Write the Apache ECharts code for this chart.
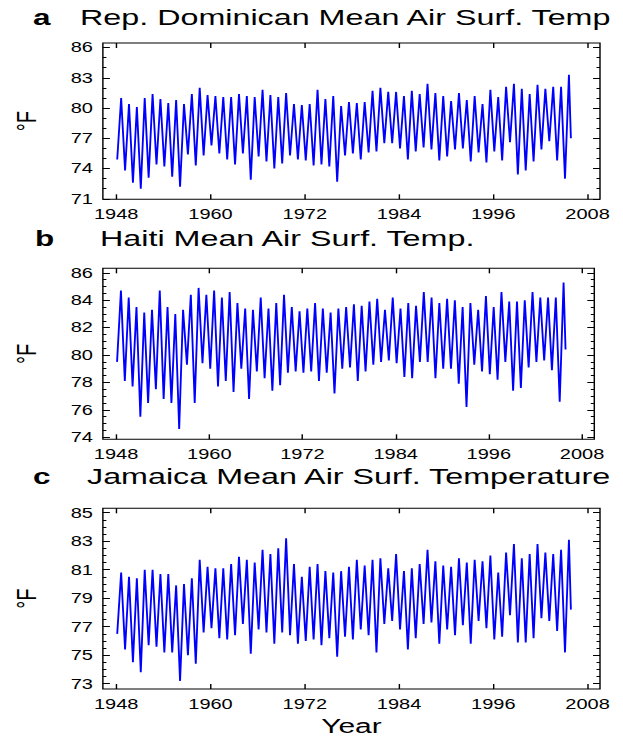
<!DOCTYPE html>
<html><head><meta charset="utf-8">
<script src="https://cdn.jsdelivr.net/npm/echarts@6/dist/echarts.min.js"></script>
<style>
html,body{margin:0;padding:0;background:#fff;overflow:hidden}
#wrap{width:623px;height:739px;overflow:hidden;position:relative}
#main{width:436px;height:739px;transform:scaleX(1.428899);transform-origin:0 0}
</style></head><body><div id="wrap"><div id="main"></div></div>
<script>
// ---- data (annual winter trough and summer peak) ----
const years = [1948,1949,1950,1951,1952,1953,1954,1955,1956,1957,
  1958,1959,1960,1961,1962,1963,1964,1965,1966,1967,
  1968,1969,1970,1971,1972,1973,1974,1975,1976,1977,
  1978,1979,1980,1981,1982,1983,1984,1985,1986,1987,
  1988,1989,1990,1991,1992,1993,1994,1995,1996,1997,
  1998,1999,2000,2001,2002,2003,2004,2005];
const troughMonth = 2;   // February
const peakMonth = 8;     // August
const endMonth = 11;     // last observation, November 2005

const domMin = [74.9,73.8,72.6,72.0,73.1,74.4,74.2,73.2,72.2,75.4,
  74.3,75.3,76.3,75.5,74.9,74.4,75.5,72.9,75.2,74.7,
  74.0,74.5,75.3,74.9,74.8,74.3,74.4,74.2,72.7,75.3,
  75.5,74.9,75.6,75.7,76.5,76.5,76.0,74.9,75.7,76.1,
  75.9,74.8,75.2,75.9,76.0,74.7,75.6,74.6,75.7,74.8,
  76.6,73.4,73.8,74.7,75.9,76.7,74.8,73.0];
const domMax = [81.0,80.4,80.1,81.0,81.4,80.9,80.5,80.8,80.4,81.4,
  82.0,81.3,81.2,81.1,81.1,81.4,81.2,81.1,81.8,81.3,
  81.1,81.5,80.4,80.3,80.4,81.8,80.9,81.2,80.2,80.6,
  80.5,80.6,81.7,82.0,81.6,81.6,81.2,81.7,81.4,82.4,
  81.5,81.2,80.7,81.5,80.8,81.2,80.4,81.8,81.1,82.1,
  82.4,81.9,81.4,82.3,81.9,82.1,82.1,83.3];
const domEnd = 77.0;

const haitiMin = [79.5,78.1,77.7,75.5,76.5,77.5,76.8,76.5,74.6,79.3,
  76.5,79.4,79.0,77.7,78.1,77.3,79.0,76.8,78.8,78.3,
  77.4,77.8,78.7,78.8,78.7,78.8,78.1,78.7,77.2,79.0,
  79.1,78.1,78.8,79.3,79.5,79.6,79.4,78.4,78.3,79.5,
  79.5,78.3,79.0,79.0,77.9,76.2,79.3,78.8,78.6,78.2,
  79.5,77.4,77.6,79.1,79.5,79.6,78.9,76.6];
const haitiMax = [84.7,84.2,83.5,83.1,83.3,84.7,83.5,83.0,83.3,84.4,
  84.9,84.4,84.7,84.2,84.6,83.8,83.4,83.3,84.2,83.4,
  83.8,84.4,83.5,83.2,83.4,83.8,83.4,83.1,83.4,83.5,
  83.7,83.6,83.9,84.1,83.3,84.2,83.4,83.8,83.6,84.6,
  84.2,83.8,84.1,84.0,83.5,83.8,83.3,84.3,83.5,84.6,
  83.9,83.9,84.0,84.6,84.2,84.2,84.2,85.3];
const haitiEnd = 80.4;

const jamMin = [76.5,75.4,74.5,73.8,75.7,75.6,75.2,75.2,73.2,75.0,
  74.4,76.6,76.9,76.2,76.1,76.4,77.2,75.1,76.8,76.6,
  75.8,76.6,76.4,75.8,76.0,76.1,75.7,76.2,74.9,76.3,
  76.1,76.8,76.4,75.2,77.2,77.4,76.8,75.4,76.2,77.2,
  77.3,75.8,76.8,76.4,77.1,75.8,77.4,76.9,76.1,76.3,
  77.8,75.9,75.9,76.2,77.6,77.4,76.7,75.2];
const jamMax = [80.8,80.5,80.4,81.0,81.0,80.7,80.7,79.9,80.0,80.4,
  81.7,81.2,81.1,81.1,81.4,81.9,81.7,81.5,82.4,82.1,
  82.5,83.2,81.4,80.5,81.2,81.4,80.9,80.8,80.9,81.2,
  81.7,81.3,81.7,81.8,81.1,82.1,80.9,81.1,81.4,82.4,
  81.6,81.3,81.2,81.8,81.5,81.7,81.6,82.0,80.8,82.2,
  82.8,81.8,82.1,82.8,82.2,82.1,82.4,83.1];
const jamEnd = 78.2;

// tick labels
const xTicks = [1948,1960,1972,1984,1996,2008];
const domTicks = [71,74,77,80,83,86];
const haitiTicks = [74,76,78,80,82,84,86];
const jamTicks = [73,75,77,79,81,83,85];

// ---- layout (reference pixels; horizontally compressed, page is stretched by CSS) ----
const SX = 623/436;
const ix = v => v / SX;
const FONT = "'Liberation Sans', Arial, Helvetica, sans-serif";

function buildSeries(mins, maxs, endVal) {
  const out = [];
  years.forEach((y, i) => {
    out.push([y + (troughMonth - 0.5) / 12, mins[i]]);
    out.push([y + (peakMonth - 0.5) / 12, maxs[i]]);
  });
  out.push([years[years.length - 1] + (endMonth - 0.5) / 12, endVal]);
  return out;
}
function minorTicks(lo, hi, step) {
  const r = [];
  for (let v = lo; v <= hi + 1e-9; v += step) r.push(+v.toFixed(3));
  return r;
}

const panels = [
  {letter:'a', title:'Rep. Dominican Mean Air Surf. Temp', mins:domMin, maxs:domMax, end:domEnd,
   ticks:domTicks, minor:1, yMin:70.95, yMax:86.45,
   left:99, right:600, top:43, bottom:199.3, titleY:18, letterX:33, titleX:80},
  {letter:'b', title:'Haiti Mean Air Surf. Temp.', mins:haitiMin, maxs:haitiMax, end:haitiEnd,
   ticks:haitiTicks, minor:0.5, yMin:73.85, yMax:86.33,
   left:98.3, right:594.3, top:268.3, bottom:439.3, titleY:239, letterX:35, titleX:100},
  {letter:'c', title:'Jamaica Mean Air Surf. Temperature', mins:jamMin, maxs:jamMax, end:jamEnd,
   ticks:jamTicks, minor:0.5, yMin:72.63, yMax:85.31,
   left:99, right:600, top:508.3, bottom:689, titleY:477, letterX:33, titleX:87}
];

const X_MIN = 1946.3, X_MAX = 2009.58;
const grid = [], xAxis = [], yAxis = [], series = [], title = [];
const tickLine = {color:'#000', width:1};
const labelStyle = {color:'#000', fontSize:14, fontFamily:FONT};
const plain = v => String(Math.round(v));

panels.forEach((p, g) => {
  grid.push({left: ix(p.left), width: ix(p.right) - ix(p.left), top: p.top, height: p.bottom - p.top,
    show: true, borderColor:'#000', borderWidth:1, backgroundColor:'transparent'});
  const minors = minorTicks(Math.ceil(p.yMin / p.minor) * p.minor, p.yMax, p.minor);
  xAxis.push({gridIndex:g, type:'value', min:X_MIN, max:X_MAX, position:'bottom',
    axisLine:{show:false}, splitLine:{show:false},
    axisTick:{show:true, inside:true, length:5, customValues:xTicks, lineStyle:tickLine},
    axisLabel:{show:true, customValues:xTicks, margin:8, formatter:plain, ...labelStyle},
    name: g === 2 ? 'Year' : '', nameLocation:'middle', nameGap:26,
    nameTextStyle:{color:'#000', fontSize:21, fontFamily:FONT}});
  xAxis.push({gridIndex:g, type:'value', min:X_MIN, max:X_MAX, position:'top',
    axisLine:{show:false}, splitLine:{show:false},
    axisTick:{show:true, inside:true, length:5, customValues:xTicks, lineStyle:tickLine},
    axisLabel:{show:false}});
  const yBase = {gridIndex:g, type:'value', min:p.yMin, max:p.yMax, axisLine:{show:false}, splitLine:{show:false}};
  yAxis.push({...yBase, position:'left',
    axisTick:{show:true, inside:true, length:ix(7), customValues:p.ticks, lineStyle:tickLine},
    axisLabel:{show:true, customValues:p.ticks, margin:7, formatter:plain, ...labelStyle},
    name:'°F', nameLocation:'middle', nameRotate:90, nameGap:44,
    nameTextStyle:{color:'#000', fontSize:20, fontFamily:FONT}});
  yAxis.push({...yBase, position:'left',
    axisTick:{show:true, inside:true, length:ix(3.5), customValues:minors, lineStyle:tickLine},
    axisLabel:{show:false}});
  yAxis.push({...yBase, position:'right',
    axisTick:{show:true, inside:true, length:ix(7), customValues:p.ticks, lineStyle:tickLine},
    axisLabel:{show:false}});
  yAxis.push({...yBase, position:'right',
    axisTick:{show:true, inside:true, length:ix(3.5), customValues:minors, lineStyle:tickLine},
    axisLabel:{show:false}});
  series.push({type:'line', xAxisIndex:2*g, yAxisIndex:4*g, data: buildSeries(p.mins, p.maxs, p.end),
    showSymbol:false, symbol:'none', lineStyle:{color:'#0000ff', width:1.3}, z:3});
  title.push({text:p.letter, left: ix(p.letterX), top: p.titleY - 12, padding:0,
    textStyle:{fontSize:22, fontWeight:'bold', color:'#000', fontFamily:FONT}});
  title.push({text:p.title, left: ix(p.titleX), top: p.titleY - 12, padding:0,
    textStyle:{fontSize:22.6, fontWeight:'normal', color:'#000', fontFamily:FONT}});
});

const chart = echarts.init(document.getElementById('main'), null, {renderer:'svg'});
chart.setOption({animation:false, backgroundColor:'#fff', title, grid, xAxis, yAxis, series});
</script></body></html>
